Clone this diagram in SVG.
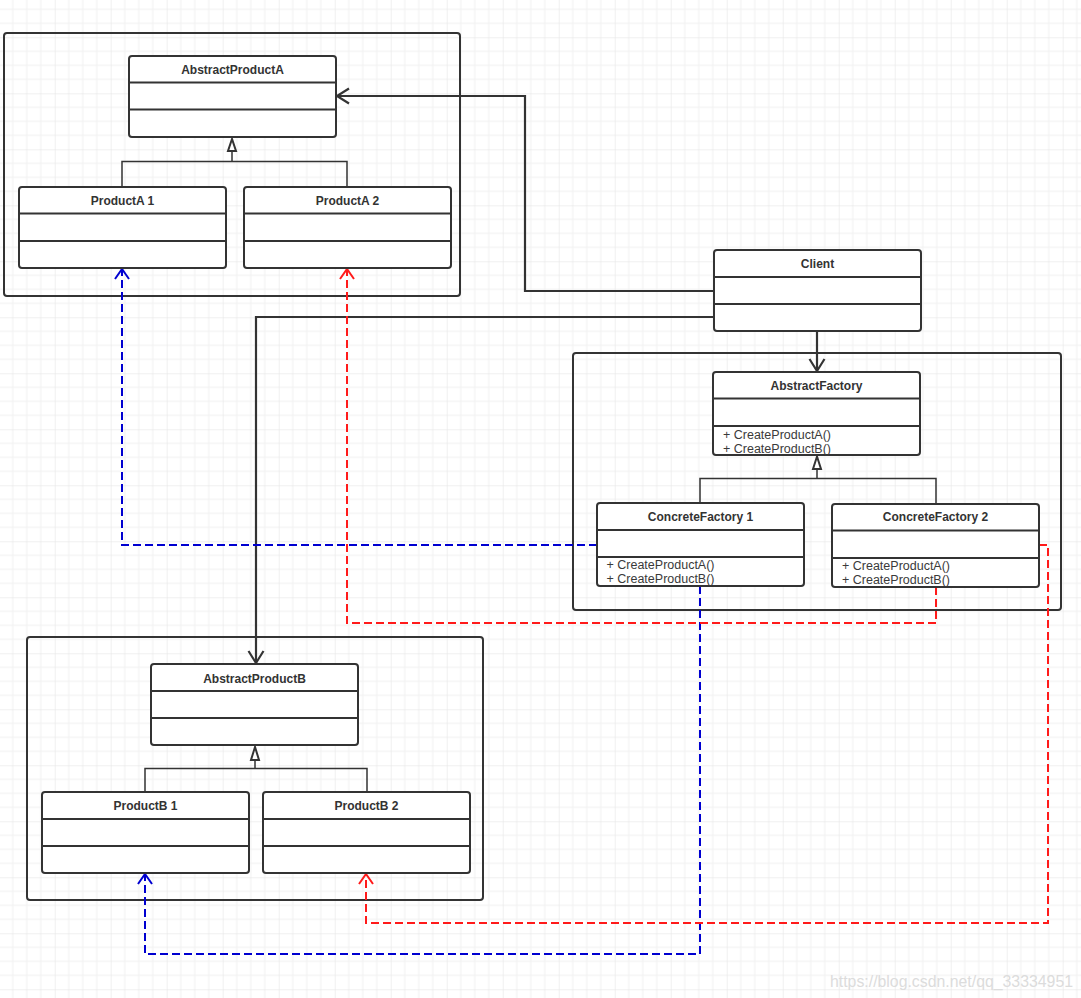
<svg xmlns="http://www.w3.org/2000/svg" width="1081" height="998" viewBox="0 0 1081 998">
<defs>
<pattern id="grid" patternUnits="userSpaceOnUse" x="-1.3" y="-18.7" width="56" height="56">
<path d="M14 0V56M28 0V56M42 0V56M0 14H56M0 28H56M0 42H56" stroke="#f0f0f0" stroke-width="1" fill="none"/>
<path d="M0 0V56M0 0H56" stroke="#e2e2e2" stroke-width="1" fill="none"/>
</pattern>
<marker id="open" markerUnits="userSpaceOnUse" viewBox="-14 -10 20 20" refX="0" refY="0" markerWidth="20" markerHeight="20" orient="auto" overflow="visible">
<path d="M-12,-7.5 L0,0 L-12,7.5" fill="none" stroke="#333" stroke-width="2.2"/>
</marker>
<marker id="openBlue" markerUnits="userSpaceOnUse" viewBox="-14 -10 20 20" refX="0" refY="0" markerWidth="20" markerHeight="20" orient="auto" overflow="visible">
<path d="M-10,-7 L0,0 L-10,7" fill="none" stroke="#0000d0" stroke-width="2"/>
</marker>
<marker id="openRed" markerUnits="userSpaceOnUse" viewBox="-14 -10 20 20" refX="0" refY="0" markerWidth="20" markerHeight="20" orient="auto" overflow="visible">
<path d="M-10,-7 L0,0 L-10,7" fill="none" stroke="#ff1a1a" stroke-width="2"/>
</marker>
</defs>
<style>
.box{fill:#fff;stroke:#333;stroke-width:2}
.cont{fill:none;stroke:#333;stroke-width:2}
.div{stroke:#333;stroke-width:2}
.h{font-family:"Liberation Sans",Arial,sans-serif;font-size:12px;font-weight:bold;fill:#333;text-anchor:middle;dominant-baseline:central}
.m{font-family:"Liberation Sans",Arial,sans-serif;font-size:12.5px;fill:#3a3a3a}
.inh{fill:none;stroke:#333;stroke-width:1.5}
.tri{fill:#fff;stroke:#333;stroke-width:2}
.assoc{fill:none;stroke:#333;stroke-width:2.2;marker-end:url(#open)}
.blue{fill:none;stroke:#0000d0;stroke-width:2;stroke-dasharray:8 4;marker-end:url(#openBlue)}
.red{fill:none;stroke:#ff1a1a;stroke-width:2;stroke-dasharray:8 4;marker-end:url(#openRed)}
</style>
<rect width="1081" height="998" fill="#fff"/>
<rect width="1081" height="998" fill="url(#grid)"/>

<g id="containerA"><rect class="cont" x="4" y="33" width="456" height="263" rx="3"/></g>
<g id="containerF"><rect class="cont" x="573" y="353" width="488" height="257" rx="3"/></g>
<g id="containerB"><rect class="cont" x="27" y="637" width="456" height="263" rx="3"/></g>

<g id="connectors">
<path class="inh" d="M122 187V161.5H347V187M232 161.5V151"/>
<polygon class="tri" points="232,139 228,151 236,151"/>
<path class="inh" d="M700 503V478.5H936V504M817 478.5V469"/>
<polygon class="tri" points="817,456.5 813,469 821,469"/>
<path class="inh" d="M145 792V768.5H367V792M255 768.5V760"/>
<polygon class="tri" points="255,747 251,760 259,760"/>
<path class="assoc" d="M714 291H525V96H337"/>
<path class="assoc" d="M714 317H256V663"/>
<path class="assoc" d="M817 331V371"/>
<path class="blue" d="M597 545H122V269"/>
<path class="blue" d="M700 586V954H145V874"/>
<path class="red" d="M936 587V623H347V269"/>
<path class="red" d="M1039 545H1048V923H366V874"/>
</g>

<g id="AbstractProductA">
<rect class="box" x="129" y="56" width="207" height="81" rx="3"/>
<line class="div" x1="129" y1="82.5" x2="336" y2="82.5"/>
<line class="div" x1="129" y1="109.5" x2="336" y2="109.5"/>
<text class="h" x="232.5" y="69.5">AbstractProductA</text>
</g>
<g id="ProductA1">
<rect class="box" x="19" y="187" width="207" height="81" rx="3"/>
<line class="div" x1="19" y1="213.5" x2="226" y2="213.5"/>
<line class="div" x1="19" y1="241" x2="226" y2="241"/>
<text class="h" x="122.5" y="200.5">ProductA 1</text>
</g>
<g id="ProductA2">
<rect class="box" x="244" y="187" width="207" height="81" rx="3"/>
<line class="div" x1="244" y1="213.5" x2="451" y2="213.5"/>
<line class="div" x1="244" y1="241" x2="451" y2="241"/>
<text class="h" x="347.5" y="201">ProductA 2</text>
</g>
<g id="Client">
<rect class="box" x="714" y="250" width="207" height="81" rx="3"/>
<line class="div" x1="714" y1="277" x2="921" y2="277"/>
<line class="div" x1="714" y1="304" x2="921" y2="304"/>
<text class="h" x="817.5" y="263.5">Client</text>
</g>
<g id="AbstractFactory">
<rect class="box" x="713" y="372" width="207" height="83" rx="3"/>
<line class="div" x1="713" y1="398.5" x2="920" y2="398.5"/>
<line class="div" x1="713" y1="426" x2="920" y2="426"/>
<text class="h" x="816.5" y="385.5">AbstractFactory</text>
<text class="m" x="723" y="438.5">+ CreateProductA()</text>
<text class="m" x="723" y="453">+ CreateProductB()</text>
</g>
<g id="ConcreteFactory1">
<rect class="box" x="597" y="503" width="207" height="83" rx="3"/>
<line class="div" x1="597" y1="530" x2="804" y2="530"/>
<line class="div" x1="597" y1="557" x2="804" y2="557"/>
<text class="h" x="700.5" y="516.5">ConcreteFactory 1</text>
<text class="m" x="606.5" y="568.5">+ CreateProductA()</text>
<text class="m" x="606.5" y="583">+ CreateProductB()</text>
</g>
<g id="ConcreteFactory2">
<rect class="box" x="832" y="504" width="207" height="83" rx="3"/>
<line class="div" x1="832" y1="530.5" x2="1039" y2="530.5"/>
<line class="div" x1="832" y1="558" x2="1039" y2="558"/>
<text class="h" x="935.5" y="517">ConcreteFactory 2</text>
<text class="m" x="842" y="569.5">+ CreateProductA()</text>
<text class="m" x="842" y="584">+ CreateProductB()</text>
</g>
<g id="AbstractProductB">
<rect class="box" x="151" y="664" width="207" height="81" rx="3"/>
<line class="div" x1="151" y1="691" x2="358" y2="691"/>
<line class="div" x1="151" y1="718" x2="358" y2="718"/>
<text class="h" x="254.5" y="678.5">AbstractProductB</text>
</g>
<g id="ProductB1">
<rect class="box" x="42" y="792" width="207" height="81" rx="3"/>
<line class="div" x1="42" y1="819" x2="249" y2="819"/>
<line class="div" x1="42" y1="846" x2="249" y2="846"/>
<text class="h" x="145.5" y="805.5">ProductB 1</text>
</g>
<g id="ProductB2">
<rect class="box" x="263" y="792" width="207" height="81" rx="3"/>
<line class="div" x1="263" y1="819" x2="470" y2="819"/>
<line class="div" x1="263" y1="846" x2="470" y2="846"/>
<text class="h" x="366.5" y="805.5">ProductB 2</text>
</g>
<g id="watermark">
<text x="830" y="987" font-family="Liberation Sans, Arial, sans-serif" font-size="16" fill="#dcdcdc" textLength="243" lengthAdjust="spacingAndGlyphs">https://blog.csdn.net/qq_33334951</text>
</g>
</svg>
